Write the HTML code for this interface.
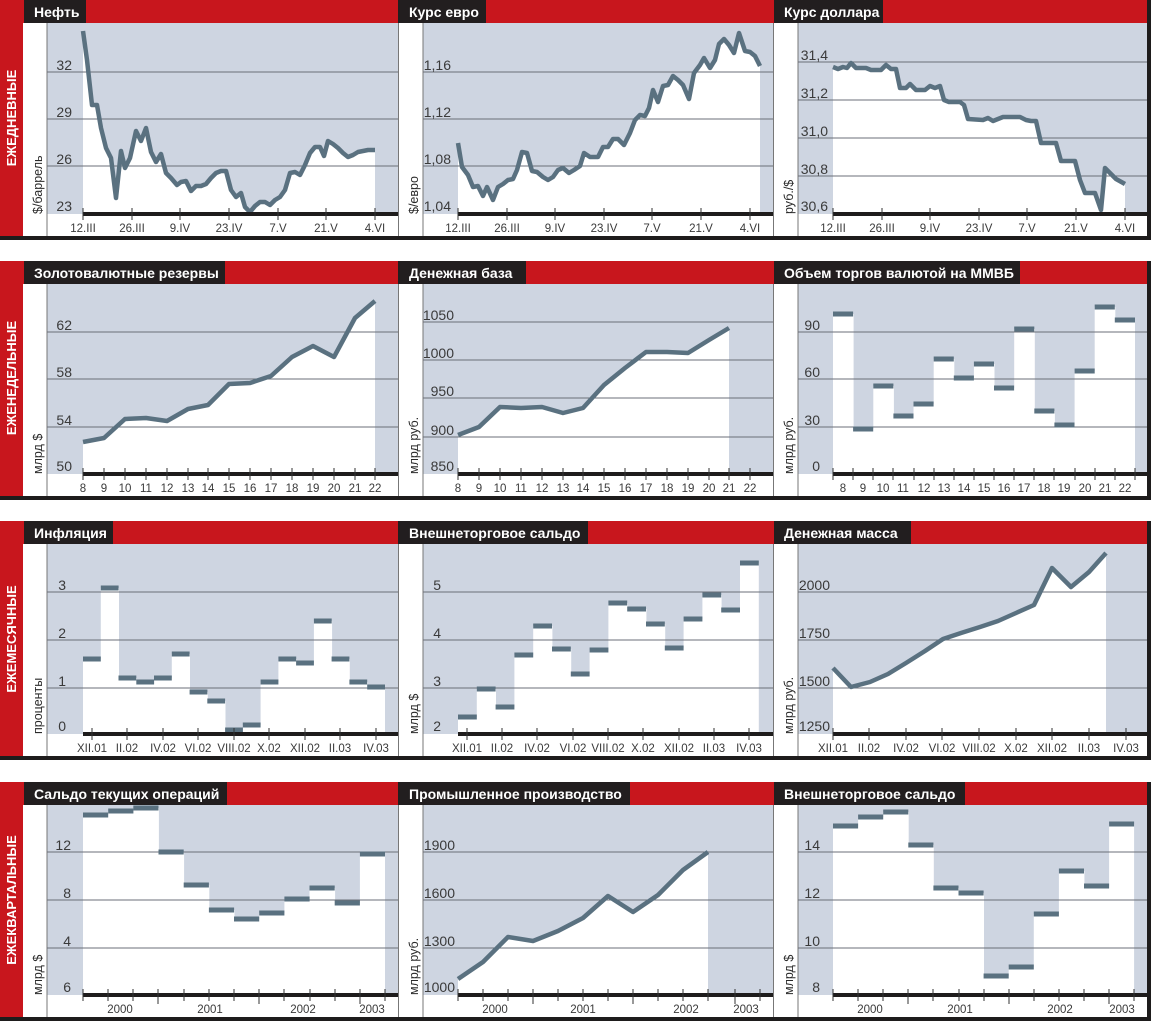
<!DOCTYPE html>
<html><head><meta charset="utf-8">
<style>
html,body{margin:0;padding:0;background:#fff;}
svg{display:block;font-family:"Liberation Sans","DejaVu Sans",sans-serif;}
.t{fill:#fff;font-weight:bold;font-size:14px;}
.s{fill:#fff;font-weight:bold;font-size:13px;}
.y{fill:#3a3a3a;font-size:14px;text-anchor:end;}
.x{fill:#3a3a3a;font-size:11.5px;text-anchor:middle;}
.u{fill:#2a2a2a;font-size:12.5px;}
.g line{stroke:#6b6f78;stroke-width:1;}
.ln{fill:none;stroke:#5a7180;stroke-width:4.5;stroke-linejoin:round;}
.wf{fill:#fff;}
.dk{fill:#5a7180;}
.tk line{stroke:#333;stroke-width:1;}
</style></head><body>
<svg width="1151" height="1021" viewBox="0 0 1151 1021" xmlns="http://www.w3.org/2000/svg">
<rect width="1151" height="1021" fill="#fff"/>

<!-- row1 T=0 A=214 -->
<rect x="0" y="0" width="23" height="240" fill="#c8161d"/>
<rect x="47" y="23" width="351" height="191" fill="#ced5e1"/>
<rect x="423" y="23" width="350" height="191" fill="#ced5e1"/>
<rect x="798" y="23" width="350" height="191" fill="#ced5e1"/>
<rect x="0" y="236" width="1151" height="4" fill="#1e1c1c"/>
<rect x="1147" y="0" width="4" height="240" fill="#1e1c1c"/>
<rect x="23" y="0" width="1124" height="23" fill="#c8161d"/>
<!-- row2 -->
<rect x="0" y="261" width="23" height="239" fill="#c8161d"/>
<rect x="47" y="284" width="351" height="190" fill="#ced5e1"/>
<rect x="423" y="284" width="350" height="190" fill="#ced5e1"/>
<rect x="798" y="284" width="350" height="190" fill="#ced5e1"/>
<rect x="0" y="496" width="1151" height="4" fill="#1e1c1c"/>
<rect x="1147" y="261" width="4" height="239" fill="#1e1c1c"/>
<rect x="23" y="261" width="1124" height="23" fill="#c8161d"/>
<!-- row3 -->
<rect x="0" y="521" width="23" height="239" fill="#c8161d"/>
<rect x="47" y="544" width="351" height="190" fill="#ced5e1"/>
<rect x="423" y="544" width="350" height="190" fill="#ced5e1"/>
<rect x="798" y="544" width="350" height="190" fill="#ced5e1"/>
<rect x="0" y="756" width="1151" height="4" fill="#1e1c1c"/>
<rect x="1147" y="521" width="4" height="239" fill="#1e1c1c"/>
<rect x="23" y="521" width="1124" height="23" fill="#c8161d"/>
<!-- row4 -->
<rect x="0" y="782" width="23" height="239" fill="#c8161d"/>
<rect x="47" y="805" width="351" height="190" fill="#ced5e1"/>
<rect x="423" y="805" width="350" height="190" fill="#ced5e1"/>
<rect x="798" y="805" width="350" height="190" fill="#ced5e1"/>
<rect x="0" y="1017" width="1151" height="4" fill="#1e1c1c"/>
<rect x="1147" y="782" width="4" height="239" fill="#1e1c1c"/>
<rect x="23" y="782" width="1124" height="23" fill="#c8161d"/>

<g stroke="#777" stroke-width="1">
<line x1="47" y1="23" x2="47" y2="236"/><line x1="423" y1="23" x2="423" y2="236"/><line x1="798" y1="23" x2="798" y2="236"/>
<line x1="398.5" y1="23" x2="398.5" y2="236"/><line x1="773.5" y1="23" x2="773.5" y2="236"/>
<line x1="47" y1="284" x2="47" y2="496"/><line x1="423" y1="284" x2="423" y2="496"/><line x1="798" y1="284" x2="798" y2="496"/>
<line x1="398.5" y1="284" x2="398.5" y2="496"/><line x1="773.5" y1="284" x2="773.5" y2="496"/>
<line x1="47" y1="544" x2="47" y2="756"/><line x1="423" y1="544" x2="423" y2="756"/><line x1="798" y1="544" x2="798" y2="756"/>
<line x1="398.5" y1="544" x2="398.5" y2="756"/><line x1="773.5" y1="544" x2="773.5" y2="756"/>
<line x1="47" y1="805" x2="47" y2="1017"/><line x1="423" y1="805" x2="423" y2="1017"/><line x1="798" y1="805" x2="798" y2="1017"/>
<line x1="398.5" y1="805" x2="398.5" y2="1017"/><line x1="773.5" y1="805" x2="773.5" y2="1017"/>
</g>

<g fill="#221e1f">
<rect x="24" y="0" width="62" height="23"/><rect x="398" y="0" width="88" height="23"/><rect x="774" y="0" width="109" height="23"/>
<rect x="24" y="261" width="201" height="23"/><rect x="398" y="261" width="128" height="23"/><rect x="774" y="261" width="246" height="23"/>
<rect x="24" y="521" width="89" height="23"/><rect x="398" y="521" width="190" height="23"/><rect x="774" y="521" width="137" height="23"/>
<rect x="24" y="782" width="203" height="23"/><rect x="398" y="782" width="232" height="23"/><rect x="774" y="782" width="191" height="23"/>
</g>
<text class="t" x="34" y="17">Нефть</text>
<text class="t" x="409" y="17">Курс евро</text>
<text class="t" x="784" y="17">Курс доллара</text>
<text class="t" x="34" y="278">Золотовалютные резервы</text>
<text class="t" x="409" y="278">Денежная база</text>
<text class="t" x="784" y="278">Объем торгов валютой на ММВБ</text>
<text class="t" x="34" y="538">Инфляция</text>
<text class="t" x="409" y="538">Внешнеторговое сальдо</text>
<text class="t" x="784" y="538">Денежная масса</text>
<text class="t" x="34" y="799">Сальдо текущих операций</text>
<text class="t" x="409" y="799">Промышленное производство</text>
<text class="t" x="784" y="799">Внешнеторговое сальдо</text>

<text class="s" transform="translate(16,118) rotate(-90)" text-anchor="middle">ЕЖЕДНЕВНЫЕ</text>
<text class="s" transform="translate(16,378) rotate(-90)" text-anchor="middle">ЕЖЕНЕДЕЛЬНЫЕ</text>
<text class="s" transform="translate(16,639) rotate(-90)" text-anchor="middle">ЕЖЕМЕСЯЧНЫЕ</text>
<text class="s" transform="translate(16,900) rotate(-90)" text-anchor="middle">ЕЖЕКВАРТАЛЬНЫЕ</text>

<text class="u" transform="translate(42,214) rotate(-90)">$/баррель</text>
<text class="u" transform="translate(418,214) rotate(-90)">$/евро</text>
<text class="u" transform="translate(793,214) rotate(-90)">руб./$</text>
<text class="u" transform="translate(42,474) rotate(-90)">млрд $</text>
<text class="u" transform="translate(418,474) rotate(-90)">млрд руб.</text>
<text class="u" transform="translate(793,474) rotate(-90)">млрд руб.</text>
<text class="u" transform="translate(42,734) rotate(-90)">проценты</text>
<text class="u" transform="translate(418,734) rotate(-90)">млрд $</text>
<text class="u" transform="translate(793,734) rotate(-90)">млрд руб.</text>
<text class="u" transform="translate(42,995) rotate(-90)">млрд $</text>
<text class="u" transform="translate(418,995) rotate(-90)">млрд руб.</text>
<text class="u" transform="translate(793,995) rotate(-90)">млрд $</text>

<polygon class="wf" points="83,31 87,60 92,105 97,105 101,128 106,148 111,158 116,198 121,151 125,168 130,158 136,131 141,141 146,128 151,152 156,162 161,154 166,173 171,178 177,185 181,182 186,181 191,191 196,186 201,186 206,184 211,178 216,173 221,171 226,171 231,190 236,197 241,193 245,207 250,212 255,206 260,202 265,202 270,205 275,200 280,197 285,190 290,173 295,172 300,175 305,165 310,153 315,147 320,147 324,156 328,141 333,144 338,148 343,153 348,157 353,155 358,152 363,151 368,150 375,150 375,214 83,214"/>
<polygon class="wf" points="458,143 462,167 468,175 473,187 478,186 483,196 487,187 493,200 498,187 503,184 508,180 513,179 517,170 522,152 527,153 532,171 537,172 543,177 548,180 553,177 558,170 563,168 569,173 574,170 580,166 584,153 590,157 598,157 603,147 608,147 613,139 618,139 624,145 630,133 635,120 640,115 645,116 649,108 653,90 658,102 663,86 668,85 673,76 678,80 683,85 689,99 694,73 700,65 704,58 710,68 715,60 719,44 724,39 729,45 734,53 739,33 745,51 750,52 755,56 760,66 760,214 458,214"/>
<polygon class="wf" points="833,67 838,69 843,67 847,68 851,63 856,68 866,68 871,70 881,70 886,65 891,69 896,69 900,88 906,88 910,84 916,90 925,90 930,86 935,88 940,86 944,100 949,102 960,102 964,105 968,119 983,120 988,118 993,121 1003,117 1020,117 1026,120 1031,121 1036,121 1041,143 1051,143 1056,143 1061,161 1075,161 1080,180 1085,193 1095,193 1101,210 1105,168 1110,173 1116,179 1125,184 1125,214 833,214"/>
<polygon class="wf" points="83,442 104,438 125,419 146,418 167,421 188,409 208,405 229,384 250,383 271,376 292,357 313,346 334,357 355,318 375,301 375,474 83,474"/>
<polygon class="wf" points="458,435 479,427 500,407 521,408 542,407 563,413 583,408 604,385 625,368 646,352 667,352 688,353 709,340 729,328 729,474 458,474"/>
<polygon class="wf" points="833,668 851,687 870,682 888,674 906,663 925,651 943,639 961,633 980,627 998,621 1016,613 1034,605 1052,568 1071,587 1089,572 1106,553 1106,734 833,734"/>
<polygon class="wf" points="458,979 483,962 508,937 533,941 558,931 583,918 608,896 633,912 658,895 683,870 708,852 708,995 458,995"/>

<g class="wf">
<rect x="833" y="314" width="20.6" height="160"/><rect x="853.1" y="429" width="20.6" height="45"/><rect x="873.3" y="386" width="20.6" height="88"/><rect x="893.4" y="416" width="20.6" height="58"/><rect x="913.5" y="404" width="20.6" height="70"/><rect x="933.7" y="359" width="20.6" height="115"/><rect x="953.8" y="378" width="20.6" height="96"/><rect x="973.9" y="364" width="20.6" height="110"/><rect x="994" y="388" width="20.6" height="86"/><rect x="1014.2" y="329" width="20.6" height="145"/><rect x="1034.3" y="411" width="20.6" height="63"/><rect x="1054.4" y="425" width="20.6" height="49"/><rect x="1074.6" y="371" width="20.6" height="103"/><rect x="1094.7" y="307" width="20.6" height="167"/><rect x="1114.8" y="320" width="20.2" height="154"/>
<rect x="83" y="659" width="18.2" height="75"/><rect x="100.8" y="588" width="18.2" height="146"/><rect x="118.5" y="678" width="18.2" height="56"/><rect x="136.3" y="682" width="18.2" height="52"/><rect x="154" y="678" width="18.2" height="56"/><rect x="171.8" y="654" width="18.2" height="80"/><rect x="189.6" y="692" width="18.2" height="42"/><rect x="207.3" y="701" width="18.2" height="33"/><rect x="225.1" y="730" width="18.2" height="4"/><rect x="242.8" y="725" width="18.2" height="9"/><rect x="260.6" y="682" width="18.2" height="52"/><rect x="278.4" y="659" width="18.2" height="75"/><rect x="296.1" y="663" width="18.2" height="71"/><rect x="313.9" y="621" width="18.2" height="113"/><rect x="331.6" y="659" width="18.2" height="75"/><rect x="349.4" y="682" width="18.2" height="52"/><rect x="367.2" y="687" width="17.8" height="47"/>
<rect x="458" y="717" width="19.2" height="17"/><rect x="476.8" y="689" width="19.2" height="45"/><rect x="495.6" y="707" width="19.2" height="27"/><rect x="514.4" y="655" width="19.2" height="79"/><rect x="533.2" y="626" width="19.2" height="108"/><rect x="552" y="649" width="19.2" height="85"/><rect x="570.8" y="674" width="19.2" height="60"/><rect x="589.6" y="650" width="19.2" height="84"/><rect x="608.4" y="603" width="19.2" height="131"/><rect x="627.2" y="609" width="19.2" height="125"/><rect x="646" y="624" width="19.2" height="110"/><rect x="664.8" y="648" width="19.2" height="86"/><rect x="683.6" y="619" width="19.2" height="115"/><rect x="702.4" y="595" width="19.2" height="139"/><rect x="721.2" y="610" width="19.2" height="124"/><rect x="740" y="563" width="18.8" height="171"/>
<rect x="83" y="815" width="25.6" height="180"/><rect x="108.2" y="811" width="25.6" height="184"/><rect x="133.3" y="808" width="25.6" height="187"/><rect x="158.5" y="852" width="25.6" height="143"/><rect x="183.7" y="885" width="25.6" height="110"/><rect x="208.9" y="910" width="25.6" height="85"/><rect x="234" y="919" width="25.6" height="76"/><rect x="259.2" y="913" width="25.6" height="82"/><rect x="284.4" y="899" width="25.6" height="96"/><rect x="309.5" y="888" width="25.6" height="107"/><rect x="334.7" y="903" width="25.6" height="92"/><rect x="359.9" y="854" width="25.1" height="141"/>
<rect x="833" y="826" width="25.5" height="169"/><rect x="858.1" y="817" width="25.5" height="178"/><rect x="883.2" y="812" width="25.5" height="183"/><rect x="908.3" y="845" width="25.5" height="150"/><rect x="933.4" y="888" width="25.5" height="107"/><rect x="958.5" y="893" width="25.5" height="102"/><rect x="983.6" y="976" width="25.5" height="19"/><rect x="1008.7" y="967" width="25.5" height="28"/><rect x="1033.8" y="914" width="25.5" height="81"/><rect x="1058.9" y="871" width="25.5" height="124"/><rect x="1084" y="886" width="25.5" height="109"/><rect x="1109.1" y="824" width="25" height="171"/>
</g>

<g class="g">
<line x1="47" y1="72" x2="398" y2="72"/><line x1="47" y1="119" x2="398" y2="119"/><line x1="47" y1="166" x2="398" y2="166"/>
<line x1="423" y1="72" x2="773" y2="72"/><line x1="423" y1="119" x2="773" y2="119"/><line x1="423" y1="166" x2="773" y2="166"/>
<line x1="798" y1="62" x2="1147" y2="62"/><line x1="798" y1="100" x2="1147" y2="100"/><line x1="798" y1="138" x2="1147" y2="138"/><line x1="798" y1="176" x2="1147" y2="176"/>
<line x1="47" y1="332" x2="398" y2="332"/><line x1="47" y1="379" x2="398" y2="379"/><line x1="47" y1="427" x2="398" y2="427"/>
<line x1="423" y1="322" x2="773" y2="322"/><line x1="423" y1="360" x2="773" y2="360"/><line x1="423" y1="398" x2="773" y2="398"/><line x1="423" y1="437" x2="773" y2="437"/>
<line x1="798" y1="332" x2="1147" y2="332"/><line x1="798" y1="379" x2="1147" y2="379"/><line x1="798" y1="427" x2="1147" y2="427"/>
<line x1="47" y1="592" x2="398" y2="592"/><line x1="47" y1="640" x2="398" y2="640"/><line x1="47" y1="688" x2="398" y2="688"/>
<line x1="423" y1="592" x2="773" y2="592"/><line x1="423" y1="640" x2="773" y2="640"/><line x1="423" y1="688" x2="773" y2="688"/>
<line x1="798" y1="592" x2="1147" y2="592"/><line x1="798" y1="640" x2="1147" y2="640"/><line x1="798" y1="688" x2="1147" y2="688"/>
<line x1="47" y1="852" x2="398" y2="852"/><line x1="47" y1="900" x2="398" y2="900"/><line x1="47" y1="948" x2="398" y2="948"/>
<line x1="423" y1="852" x2="773" y2="852"/><line x1="423" y1="900" x2="773" y2="900"/><line x1="423" y1="948" x2="773" y2="948"/>
<line x1="798" y1="852" x2="1147" y2="852"/><line x1="798" y1="900" x2="1147" y2="900"/><line x1="798" y1="948" x2="1147" y2="948"/>
</g>

<polyline class="ln" points="83,31 87,60 92,105 97,105 101,128 106,148 111,158 116,198 121,151 125,168 130,158 136,131 141,141 146,128 151,152 156,162 161,154 166,173 171,178 177,185 181,182 186,181 191,191 196,186 201,186 206,184 211,178 216,173 221,171 226,171 231,190 236,197 241,193 245,207 250,212 255,206 260,202 265,202 270,205 275,200 280,197 285,190 290,173 295,172 300,175 305,165 310,153 315,147 320,147 324,156 328,141 333,144 338,148 343,153 348,157 353,155 358,152 363,151 368,150 375,150"/>
<polyline class="ln" points="458,143 462,167 468,175 473,187 478,186 483,196 487,187 493,200 498,187 503,184 508,180 513,179 517,170 522,152 527,153 532,171 537,172 543,177 548,180 553,177 558,170 563,168 569,173 574,170 580,166 584,153 590,157 598,157 603,147 608,147 613,139 618,139 624,145 630,133 635,120 640,115 645,116 649,108 653,90 658,102 663,86 668,85 673,76 678,80 683,85 689,99 694,73 700,65 704,58 710,68 715,60 719,44 724,39 729,45 734,53 739,33 745,51 750,52 755,56 760,66"/>
<polyline class="ln" points="833,67 838,69 843,67 847,68 851,63 856,68 866,68 871,70 881,70 886,65 891,69 896,69 900,88 906,88 910,84 916,90 925,90 930,86 935,88 940,86 944,100 949,102 960,102 964,105 968,119 983,120 988,118 993,121 1003,117 1020,117 1026,120 1031,121 1036,121 1041,143 1051,143 1056,143 1061,161 1075,161 1080,180 1085,193 1095,193 1101,210 1105,168 1110,173 1116,179 1125,184"/>
<polyline class="ln" points="83,442 104,438 125,419 146,418 167,421 188,409 208,405 229,384 250,383 271,376 292,357 313,346 334,357 355,318 375,301"/>
<polyline class="ln" points="458,435 479,427 500,407 521,408 542,407 563,413 583,408 604,385 625,368 646,352 667,352 688,353 709,340 729,328"/>
<polyline class="ln" points="833,668 851,687 870,682 888,674 906,663 925,651 943,639 961,633 980,627 998,621 1016,613 1034,605 1052,568 1071,587 1089,572 1106,553"/>
<polyline class="ln" points="458,979 483,962 508,937 533,941 558,931 583,918 608,896 633,912 658,895 683,870 708,852"/>

<g class="dk">
<rect x="833" y="311.5" width="20.1" height="5"/><rect x="853.1" y="426.5" width="20.1" height="5"/><rect x="873.3" y="383.5" width="20.1" height="5"/><rect x="893.4" y="413.5" width="20.1" height="5"/><rect x="913.5" y="401.5" width="20.1" height="5"/><rect x="933.7" y="356.5" width="20.1" height="5"/><rect x="953.8" y="375.5" width="20.1" height="5"/><rect x="973.9" y="361.5" width="20.1" height="5"/><rect x="994" y="385.5" width="20.1" height="5"/><rect x="1014.2" y="326.5" width="20.1" height="5"/><rect x="1034.3" y="408.5" width="20.1" height="5"/><rect x="1054.4" y="422.5" width="20.1" height="5"/><rect x="1074.6" y="368.5" width="20.1" height="5"/><rect x="1094.7" y="304.5" width="20.1" height="5"/><rect x="1114.8" y="317.5" width="20.2" height="5"/>
<rect x="83" y="656.5" width="17.8" height="5"/><rect x="100.8" y="585.5" width="17.8" height="5"/><rect x="118.5" y="675.5" width="17.8" height="5"/><rect x="136.3" y="679.5" width="17.8" height="5"/><rect x="154" y="675.5" width="17.8" height="5"/><rect x="171.8" y="651.5" width="17.8" height="5"/><rect x="189.6" y="689.5" width="17.8" height="5"/><rect x="207.3" y="698.5" width="17.8" height="5"/><rect x="225.1" y="727.5" width="17.8" height="5"/><rect x="242.8" y="722.5" width="17.8" height="5"/><rect x="260.6" y="679.5" width="17.8" height="5"/><rect x="278.4" y="656.5" width="17.8" height="5"/><rect x="296.1" y="660.5" width="17.8" height="5"/><rect x="313.9" y="618.5" width="17.8" height="5"/><rect x="331.6" y="656.5" width="17.8" height="5"/><rect x="349.4" y="679.5" width="17.8" height="5"/><rect x="367.2" y="684.5" width="17.8" height="5"/>
<rect x="458" y="714.5" width="18.8" height="5"/><rect x="476.8" y="686.5" width="18.8" height="5"/><rect x="495.6" y="704.5" width="18.8" height="5"/><rect x="514.4" y="652.5" width="18.8" height="5"/><rect x="533.2" y="623.5" width="18.8" height="5"/><rect x="552" y="646.5" width="18.8" height="5"/><rect x="570.8" y="671.5" width="18.8" height="5"/><rect x="589.6" y="647.5" width="18.8" height="5"/><rect x="608.4" y="600.5" width="18.8" height="5"/><rect x="627.2" y="606.5" width="18.8" height="5"/><rect x="646" y="621.5" width="18.8" height="5"/><rect x="664.8" y="645.5" width="18.8" height="5"/><rect x="683.6" y="616.5" width="18.8" height="5"/><rect x="702.4" y="592.5" width="18.8" height="5"/><rect x="721.2" y="607.5" width="18.8" height="5"/><rect x="740" y="560.5" width="18.8" height="5"/>
<rect x="83" y="812.5" width="25.2" height="5"/><rect x="108.2" y="808.5" width="25.2" height="5"/><rect x="133.3" y="805.5" width="25.2" height="5"/><rect x="158.5" y="849.5" width="25.2" height="5"/><rect x="183.7" y="882.5" width="25.2" height="5"/><rect x="208.9" y="907.5" width="25.2" height="5"/><rect x="234" y="916.5" width="25.2" height="5"/><rect x="259.2" y="910.5" width="25.2" height="5"/><rect x="284.4" y="896.5" width="25.2" height="5"/><rect x="309.5" y="885.5" width="25.2" height="5"/><rect x="334.7" y="900.5" width="25.2" height="5"/><rect x="359.9" y="851.5" width="25.1" height="5"/>
<rect x="833" y="823.5" width="25.1" height="5"/><rect x="858.1" y="814.5" width="25.1" height="5"/><rect x="883.2" y="809.5" width="25.1" height="5"/><rect x="908.3" y="842.5" width="25.1" height="5"/><rect x="933.4" y="885.5" width="25.1" height="5"/><rect x="958.5" y="890.5" width="25.1" height="5"/><rect x="983.6" y="973.5" width="25.1" height="5"/><rect x="1008.7" y="964.5" width="25.1" height="5"/><rect x="1033.8" y="911.5" width="25.1" height="5"/><rect x="1058.9" y="868.5" width="25.1" height="5"/><rect x="1084" y="883.5" width="25.1" height="5"/><rect x="1109.1" y="821.5" width="25" height="5"/>
</g>

<g fill="#1e1c1c">
<rect x="83" y="212" width="315" height="4"/><rect x="458" y="212" width="315" height="4"/><rect x="833" y="212" width="314" height="4"/>
<rect x="83" y="472" width="315" height="4"/><rect x="458" y="472" width="315" height="4"/><rect x="833" y="472" width="314" height="4"/>
<rect x="83" y="732" width="315" height="4"/><rect x="458" y="732" width="315" height="4"/><rect x="833" y="732" width="314" height="4"/>
<rect x="83" y="993" width="315" height="4"/><rect x="458" y="993" width="315" height="4"/><rect x="833" y="993" width="314" height="4"/>
</g>

<g class="tk">
<line x1="83" y1="208" x2="83" y2="220"/><line x1="132" y1="208" x2="132" y2="220"/><line x1="180" y1="208" x2="180" y2="220"/><line x1="229" y1="208" x2="229" y2="220"/><line x1="278" y1="208" x2="278" y2="220"/><line x1="326" y1="208" x2="326" y2="220"/><line x1="375" y1="208" x2="375" y2="220"/>
<line x1="458" y1="208" x2="458" y2="220"/><line x1="507" y1="208" x2="507" y2="220"/><line x1="555" y1="208" x2="555" y2="220"/><line x1="604" y1="208" x2="604" y2="220"/><line x1="652" y1="208" x2="652" y2="220"/><line x1="701" y1="208" x2="701" y2="220"/><line x1="750" y1="208" x2="750" y2="220"/>
<line x1="833" y1="208" x2="833" y2="220"/><line x1="882" y1="208" x2="882" y2="220"/><line x1="930" y1="208" x2="930" y2="220"/><line x1="979" y1="208" x2="979" y2="220"/><line x1="1027" y1="208" x2="1027" y2="220"/><line x1="1076" y1="208" x2="1076" y2="220"/><line x1="1125" y1="208" x2="1125" y2="220"/>
<line x1="83" y1="468" x2="83" y2="480"/><line x1="104" y1="468" x2="104" y2="480"/><line x1="125" y1="468" x2="125" y2="480"/><line x1="146" y1="468" x2="146" y2="480"/><line x1="167" y1="468" x2="167" y2="480"/><line x1="188" y1="468" x2="188" y2="480"/><line x1="208" y1="468" x2="208" y2="480"/><line x1="229" y1="468" x2="229" y2="480"/><line x1="250" y1="468" x2="250" y2="480"/><line x1="271" y1="468" x2="271" y2="480"/><line x1="292" y1="468" x2="292" y2="480"/><line x1="313" y1="468" x2="313" y2="480"/><line x1="334" y1="468" x2="334" y2="480"/><line x1="355" y1="468" x2="355" y2="480"/><line x1="375" y1="468" x2="375" y2="480"/>
<line x1="458" y1="468" x2="458" y2="480"/><line x1="479" y1="468" x2="479" y2="480"/><line x1="500" y1="468" x2="500" y2="480"/><line x1="521" y1="468" x2="521" y2="480"/><line x1="542" y1="468" x2="542" y2="480"/><line x1="563" y1="468" x2="563" y2="480"/><line x1="583" y1="468" x2="583" y2="480"/><line x1="604" y1="468" x2="604" y2="480"/><line x1="625" y1="468" x2="625" y2="480"/><line x1="646" y1="468" x2="646" y2="480"/><line x1="667" y1="468" x2="667" y2="480"/><line x1="688" y1="468" x2="688" y2="480"/><line x1="709" y1="468" x2="709" y2="480"/><line x1="729" y1="468" x2="729" y2="480"/><line x1="750" y1="468" x2="750" y2="480"/>
<line x1="833" y1="468" x2="833" y2="480"/><line x1="853" y1="468" x2="853" y2="480"/><line x1="873" y1="468" x2="873" y2="480"/><line x1="893" y1="468" x2="893" y2="480"/><line x1="914" y1="468" x2="914" y2="480"/><line x1="934" y1="468" x2="934" y2="480"/><line x1="954" y1="468" x2="954" y2="480"/><line x1="974" y1="468" x2="974" y2="480"/><line x1="994" y1="468" x2="994" y2="480"/><line x1="1014" y1="468" x2="1014" y2="480"/><line x1="1034" y1="468" x2="1034" y2="480"/><line x1="1054" y1="468" x2="1054" y2="480"/><line x1="1075" y1="468" x2="1075" y2="480"/><line x1="1095" y1="468" x2="1095" y2="480"/><line x1="1115" y1="468" x2="1115" y2="480"/><line x1="1135" y1="468" x2="1135" y2="480"/>
<line x1="92" y1="728" x2="92" y2="740"/><line x1="127" y1="728" x2="127" y2="740"/><line x1="163" y1="728" x2="163" y2="740"/><line x1="198" y1="728" x2="198" y2="740"/><line x1="234" y1="728" x2="234" y2="740"/><line x1="269" y1="728" x2="269" y2="740"/><line x1="305" y1="728" x2="305" y2="740"/><line x1="340" y1="728" x2="340" y2="740"/><line x1="376" y1="728" x2="376" y2="740"/>
<line x1="467" y1="728" x2="467" y2="740"/><line x1="502" y1="728" x2="502" y2="740"/><line x1="537" y1="728" x2="537" y2="740"/><line x1="573" y1="728" x2="573" y2="740"/><line x1="608" y1="728" x2="608" y2="740"/><line x1="643" y1="728" x2="643" y2="740"/><line x1="679" y1="728" x2="679" y2="740"/><line x1="714" y1="728" x2="714" y2="740"/><line x1="749" y1="728" x2="749" y2="740"/>
<line x1="833" y1="728" x2="833" y2="740"/><line x1="869" y1="728" x2="869" y2="740"/><line x1="906" y1="728" x2="906" y2="740"/><line x1="942" y1="728" x2="942" y2="740"/><line x1="979" y1="728" x2="979" y2="740"/><line x1="1016" y1="728" x2="1016" y2="740"/><line x1="1052" y1="728" x2="1052" y2="740"/><line x1="1089" y1="728" x2="1089" y2="740"/><line x1="1126" y1="728" x2="1126" y2="740"/>
<line x1="83" y1="989" x2="83" y2="1001"/><line x1="108" y1="989" x2="108" y2="1001"/><line x1="133" y1="989" x2="133" y2="1001"/><line x1="158" y1="989" x2="158" y2="1004"/><line x1="184" y1="989" x2="184" y2="1001"/><line x1="209" y1="989" x2="209" y2="1001"/><line x1="234" y1="989" x2="234" y2="1001"/><line x1="259" y1="989" x2="259" y2="1004"/><line x1="284" y1="989" x2="284" y2="1001"/><line x1="310" y1="989" x2="310" y2="1001"/><line x1="335" y1="989" x2="335" y2="1001"/><line x1="360" y1="989" x2="360" y2="1004"/><line x1="385" y1="989" x2="385" y2="1001"/>
<line x1="458" y1="989" x2="458" y2="1001"/><line x1="483" y1="989" x2="483" y2="1001"/><line x1="508" y1="989" x2="508" y2="1001"/><line x1="533" y1="989" x2="533" y2="1004"/><line x1="558" y1="989" x2="558" y2="1001"/><line x1="583" y1="989" x2="583" y2="1001"/><line x1="608" y1="989" x2="608" y2="1001"/><line x1="633" y1="989" x2="633" y2="1004"/><line x1="658" y1="989" x2="658" y2="1001"/><line x1="683" y1="989" x2="683" y2="1001"/><line x1="708" y1="989" x2="708" y2="1001"/><line x1="735" y1="989" x2="735" y2="1004"/><line x1="760" y1="989" x2="760" y2="1001"/>
<line x1="833" y1="989" x2="833" y2="1001"/><line x1="858" y1="989" x2="858" y2="1001"/><line x1="883" y1="989" x2="883" y2="1001"/><line x1="908" y1="989" x2="908" y2="1004"/><line x1="933" y1="989" x2="933" y2="1001"/><line x1="959" y1="989" x2="959" y2="1001"/><line x1="984" y1="989" x2="984" y2="1001"/><line x1="1009" y1="989" x2="1009" y2="1004"/><line x1="1034" y1="989" x2="1034" y2="1001"/><line x1="1059" y1="989" x2="1059" y2="1001"/><line x1="1084" y1="989" x2="1084" y2="1001"/><line x1="1109" y1="989" x2="1109" y2="1004"/><line x1="1134" y1="989" x2="1134" y2="1001"/>
</g>

<text class="y" x="72" y="70">32</text><text class="y" x="72" y="117">29</text><text class="y" x="72" y="164">26</text><text class="y" x="72" y="211">23</text>
<text class="y" x="451" y="70">1,16</text><text class="y" x="451" y="117">1,12</text><text class="y" x="451" y="164">1,08</text><text class="y" x="451" y="211">1,04</text>
<text class="y" x="828" y="60">31,4</text><text class="y" x="828" y="98">31,2</text><text class="y" x="828" y="136">31,0</text><text class="y" x="828" y="174">30,8</text><text class="y" x="828" y="211">30,6</text>
<text class="y" x="72" y="330">62</text><text class="y" x="72" y="377">58</text><text class="y" x="72" y="425">54</text><text class="y" x="72" y="471">50</text>
<text class="y" x="454" y="320">1050</text><text class="y" x="454" y="358">1000</text><text class="y" x="454" y="396">950</text><text class="y" x="454" y="435">900</text><text class="y" x="454" y="471">850</text>
<text class="y" x="820" y="330">90</text><text class="y" x="820" y="377">60</text><text class="y" x="820" y="425">30</text><text class="y" x="820" y="471">0</text>
<text class="y" x="66" y="590">3</text><text class="y" x="66" y="638">2</text><text class="y" x="66" y="686">1</text><text class="y" x="66" y="731">0</text>
<text class="y" x="441" y="590">5</text><text class="y" x="441" y="638">4</text><text class="y" x="441" y="686">3</text><text class="y" x="441" y="731">2</text>
<text class="y" x="830" y="590">2000</text><text class="y" x="830" y="638">1750</text><text class="y" x="830" y="686">1500</text><text class="y" x="830" y="731">1250</text>
<text class="y" x="71" y="850">12</text><text class="y" x="71" y="898">8</text><text class="y" x="71" y="946">4</text><text class="y" x="71" y="992">6</text>
<text class="y" x="455" y="850">1900</text><text class="y" x="455" y="898">1600</text><text class="y" x="455" y="946">1300</text><text class="y" x="455" y="992">1000</text>
<text class="y" x="820" y="850">14</text><text class="y" x="820" y="898">12</text><text class="y" x="820" y="946">10</text><text class="y" x="820" y="992">8</text>

<text class="x" x="83" y="232">12.III</text><text class="x" x="132" y="232">26.III</text><text class="x" x="180" y="232">9.IV</text><text class="x" x="229" y="232">23.IV</text><text class="x" x="278" y="232">7.V</text><text class="x" x="326" y="232">21.V</text><text class="x" x="375" y="232">4.VI</text>
<text class="x" x="458" y="232">12.III</text><text class="x" x="507" y="232">26.III</text><text class="x" x="555" y="232">9.IV</text><text class="x" x="604" y="232">23.IV</text><text class="x" x="652" y="232">7.V</text><text class="x" x="701" y="232">21.V</text><text class="x" x="750" y="232">4.VI</text>
<text class="x" x="833" y="232">12.III</text><text class="x" x="882" y="232">26.III</text><text class="x" x="930" y="232">9.IV</text><text class="x" x="979" y="232">23.IV</text><text class="x" x="1027" y="232">7.V</text><text class="x" x="1076" y="232">21.V</text><text class="x" x="1125" y="232">4.VI</text>

<text class="x" x="83" y="492">8</text><text class="x" x="104" y="492">9</text><text class="x" x="125" y="492">10</text><text class="x" x="146" y="492">11</text><text class="x" x="167" y="492">12</text><text class="x" x="188" y="492">13</text><text class="x" x="208" y="492">14</text><text class="x" x="229" y="492">15</text><text class="x" x="250" y="492">16</text><text class="x" x="271" y="492">17</text><text class="x" x="292" y="492">18</text><text class="x" x="313" y="492">19</text><text class="x" x="334" y="492">20</text><text class="x" x="355" y="492">21</text><text class="x" x="375" y="492">22</text>
<text class="x" x="458" y="492">8</text><text class="x" x="479" y="492">9</text><text class="x" x="500" y="492">10</text><text class="x" x="521" y="492">11</text><text class="x" x="542" y="492">12</text><text class="x" x="563" y="492">13</text><text class="x" x="583" y="492">14</text><text class="x" x="604" y="492">15</text><text class="x" x="625" y="492">16</text><text class="x" x="646" y="492">17</text><text class="x" x="667" y="492">18</text><text class="x" x="688" y="492">19</text><text class="x" x="709" y="492">20</text><text class="x" x="729" y="492">21</text><text class="x" x="750" y="492">22</text>
<text class="x" x="843" y="492">8</text><text class="x" x="863" y="492">9</text><text class="x" x="883" y="492">10</text><text class="x" x="903" y="492">11</text><text class="x" x="924" y="492">12</text><text class="x" x="944" y="492">13</text><text class="x" x="964" y="492">14</text><text class="x" x="984" y="492">15</text><text class="x" x="1004" y="492">16</text><text class="x" x="1024" y="492">17</text><text class="x" x="1044" y="492">18</text><text class="x" x="1064" y="492">19</text><text class="x" x="1085" y="492">20</text><text class="x" x="1105" y="492">21</text><text class="x" x="1125" y="492">22</text>

<text class="x" x="92" y="752">XII.01</text><text class="x" x="127" y="752">II.02</text><text class="x" x="163" y="752">IV.02</text><text class="x" x="198" y="752">VI.02</text><text class="x" x="234" y="752">VIII.02</text><text class="x" x="269" y="752">X.02</text><text class="x" x="305" y="752">XII.02</text><text class="x" x="340" y="752">II.03</text><text class="x" x="376" y="752">IV.03</text>
<text class="x" x="467" y="752">XII.01</text><text class="x" x="502" y="752">II.02</text><text class="x" x="537" y="752">IV.02</text><text class="x" x="573" y="752">VI.02</text><text class="x" x="608" y="752">VIII.02</text><text class="x" x="643" y="752">X.02</text><text class="x" x="679" y="752">XII.02</text><text class="x" x="714" y="752">II.03</text><text class="x" x="749" y="752">IV.03</text>
<text class="x" x="833" y="752">XII.01</text><text class="x" x="869" y="752">II.02</text><text class="x" x="906" y="752">IV.02</text><text class="x" x="942" y="752">VI.02</text><text class="x" x="979" y="752">VIII.02</text><text class="x" x="1016" y="752">X.02</text><text class="x" x="1052" y="752">XII.02</text><text class="x" x="1089" y="752">II.03</text><text class="x" x="1126" y="752">IV.03</text>

<text class="x" x="120" y="1013">2000</text><text class="x" x="210" y="1013">2001</text><text class="x" x="303" y="1013">2002</text><text class="x" x="372" y="1013">2003</text>
<text class="x" x="495" y="1013">2000</text><text class="x" x="583" y="1013">2001</text><text class="x" x="686" y="1013">2002</text><text class="x" x="746" y="1013">2003</text>
<text class="x" x="870" y="1013">2000</text><text class="x" x="960" y="1013">2001</text><text class="x" x="1060" y="1013">2002</text><text class="x" x="1122" y="1013">2003</text>
</svg>
</body></html>
